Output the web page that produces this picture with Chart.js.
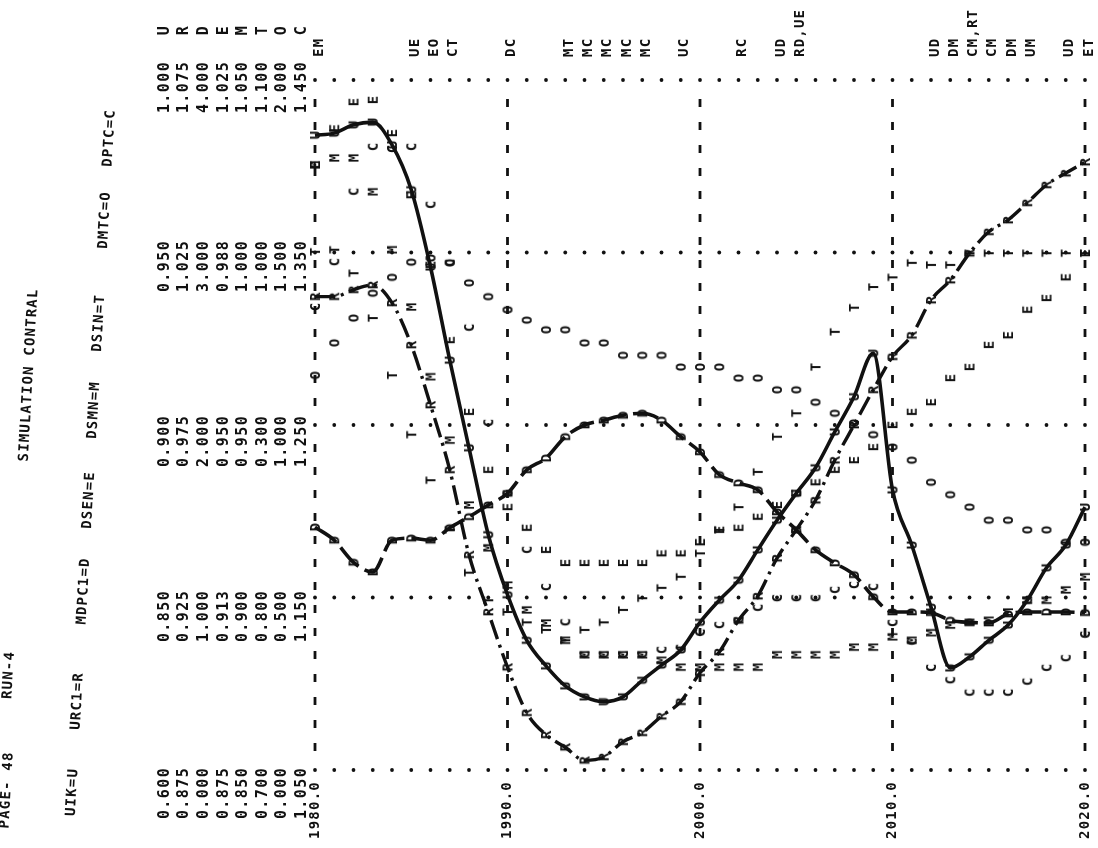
<!DOCTYPE html>
<html>
<head>
<meta charset="utf-8">
<title>SIMULATION CONTRAL - RUN-4</title>
<script src="https://cdn.jsdelivr.net/npm/chart.js@4.4.1/dist/chart.umd.min.js"></script>
<style>
  html, body { margin: 0; padding: 0; background: #ffffff; }
  #wrap { width: 1098px; height: 848px; position: relative; }
</style>
</head>
<body>
<div id="wrap"><canvas id="plot"></canvas></div>
<script>
// ---- time axis (one printer line per year) ----
const years = [1980,1981,1982,1983,1984,1985,1986,1987,1988,1989,
               1990,1991,1992,1993,1994,1995,1996,1997,1998,1999,
               2000,2001,2002,2003,2004,2005,2006,2007,2008,2009,
               2010,2011,2012,2013,2014,2015,2016,2017,2018,2019,2020];
const decadeTicks  = [1980, 1990, 2000, 2010, 2020];
const decadeLabels = ['1980.0', '1990.0', '2000.0', '2010.0', '2020.0'];

// ---- plotted variables and their print symbols ----
const varNames = ['UIK', 'URC1', 'MDPC1', 'DSEN', 'DSMN', 'DSIN', 'DMTC', 'DPTC'];
const symbols  = ['U', 'R', 'D', 'E', 'M', 'T', 'O', 'C'];

// scale values printed at the five grid rows (bottom row first), one entry per variable
const scaleRow0 = ['0.600', '0.875', '0.000', '0.875', '0.850', '0.700', '0.000', '1.050'];
const scaleRow1 = ['0.850', '0.925', '1.000', '0.913', '0.900', '0.800', '0.500', '1.150'];
const scaleRow2 = ['0.900', '0.975', '2.000', '0.950', '0.950', '0.300', '1.000', '1.250'];
const scaleRow3 = ['0.950', '1.025', '3.000', '0.988', '1.000', '1.000', '1.500', '1.350'];
const scaleRow4 = ['1.000', '1.075', '4.000', '1.025', '1.050', '1.100', '2.000', '1.450'];
const gridLevels = [0, 25, 50, 75, 100];   // position on each variable's scale, percent

// coincident-symbol notes printed at the end of a line
const noteYears = [1980, 1985, 1986, 1987, 1990, 1993, 1994, 1995, 1996, 1997, 1999,
                   2002, 2004, 2005, 2012, 2013, 2014, 2015, 2016, 2017, 2019, 2020];
const noteText  = ['EM', 'UE', 'EO', 'CT', 'DC', 'MT', 'MC', 'MC', 'MC', 'MC', 'UC',
                   'RC', 'UD', 'RD,UE', 'UD', 'DM', 'CM,RT', 'CM', 'DM', 'UM', 'UD', 'ET'];

// ---- series, in percent of each variable's printed scale ----
const uik = [92.0,92.3,93.5,93.9,90.6,84.1,72.9,59.4,46.7,34.1,
             25.4,18.8,15.1,12.2,10.6, 9.9,10.6,13.0,15.2,17.4,
             21.4,24.6,27.5,31.9,36.2,40.1,43.8,49.0,54.1,60.4,
             40.6,32.6,23.6,14.8,16.4,18.8,21.0,24.6,29.3,32.6,38.1];
const urc1 = [68.6,68.6,69.6,70.3,67.7,61.6,52.9,43.5,31.2,22.9,
              14.9, 8.3, 5.1, 3.3, 1.4, 1.9, 4.1, 5.4, 7.8, 9.9,
              14.1,17.1,21.7,25.2,30.7,34.8,39.1,44.9,50.0,55.1,
              59.9,63.0,68.1,71.0,74.9,78.0,79.7,82.2,84.8,86.5,88.1];
const mdpc1 = [35.2,33.3,30.1,28.7,33.3,33.6,33.3,35.1,36.7,38.4,
               40.1,43.5,45.2,48.3,50.0,50.7,51.4,51.7,50.7,48.3,
               46.1,42.8,41.6,40.6,37.4,34.8,31.9,30.0,28.3,25.1,
               22.9,22.9,22.8,21.7,21.4,21.3,22.6,22.9,22.9,22.9,22.8];
const dsen = [87.7,93.0,96.8,97.1,92.3,83.3,73.2,62.3,51.9,43.5,
              38.1,35.1,31.9,30.0,30.0,30.0,30.0,30.0,31.4,31.4,
              33.0,34.8,35.1,36.7,38.4,40.1,41.7,43.5,44.9,46.8,
              50.0,51.9,53.3,56.8,58.4,61.6,63.0,66.7,68.4,71.4,74.9];
const dsmn = [87.7,88.7,88.7,83.8,75.4,67.1,57.0,47.8,38.4,32.2,
              26.8,23.2,21.3,18.8,16.7,16.7,16.7,16.7,15.9,14.9,
              14.9,14.9,14.9,14.9,16.7,16.7,16.7,16.7,17.8,17.8,
              19.3,18.8,19.9,21.0,21.4,21.7,22.9,24.6,24.6,26.1,28.0];
const dsin = [75.1,75.4,72.0,65.5,57.2,48.6,42.0,34.8,28.6,24.6,
              22.9,21.4,20.3,18.8,20.3,21.4,23.2,24.9,26.4,28.0,
              31.4,34.8,38.1,43.2,48.3,51.7,58.4,63.5,67.0,70.0,
              71.4,73.5,73.2,73.2,74.9,74.9,74.9,74.9,74.9,74.9,74.9];
const dmtc = [57.2,61.9,65.5,69.1,71.4,73.6,74.2,73.5,70.6,68.6,
              66.7,65.2,63.8,63.8,61.9,61.9,60.1,60.1,60.1,58.4,
              58.4,58.4,56.8,56.8,55.1,55.1,53.3,51.7,50.3,48.6,
              46.8,44.9,41.7,39.9,38.1,36.2,36.2,34.8,34.8,33.0,33.0];
const dptc = [67.1,73.6,83.8,90.3,90.0,90.3,81.9,73.5,64.1,50.3,
              40.1,31.9,26.5,21.4,16.7,16.7,16.7,16.7,17.4,17.7,
              19.9,21.0,21.7,23.5,24.9,24.9,24.9,26.1,26.8,26.5,
              21.3,18.6,14.8,13.0,11.2,11.2,11.2,12.8,14.8,16.2,19.6];

const seriesValues = [uik, urc1, mdpc1, dsen, dsmn, dsin, dmtc, dptc];

// ---- drawing helpers ----
const MONO = "'DejaVu Sans Mono', 'Liberation Mono', monospace";
const INK = '#111111';

function points(values) {
  return years.map((yr, i) => ({ x: yr, y: values[i] }));
}

// a printed character used as the point marker
function glyph(ch) {
  const c = document.createElement('canvas');
  c.width = 14; c.height = 14;
  const g = c.getContext('2d');
  g.font = 'bold 14px ' + MONO;
  g.fillStyle = INK;
  g.textAlign = 'center';
  g.textBaseline = 'alphabetic';
  g.fillText(ch, 7, 12);
  return c;
}

function rotText(ctx, s, cx, cy, align, angle) {
  ctx.save();
  ctx.translate(cx, cy);
  ctx.rotate(angle === undefined ? -Math.PI / 2 : angle);
  ctx.textAlign = align || 'center';
  ctx.textBaseline = 'middle';
  ctx.fillText(s, 0, 0);
  ctx.restore();
}

// dotted grid rows, dashed decade columns and all the printed text
const printerSheet = {
  id: 'printerSheet',
  beforeDatasetsDraw(chart) {
    const { ctx, scales: { x, y } } = chart;
    ctx.save();
    ctx.fillStyle = INK;
    gridLevels.forEach(v => {
      const py = y.getPixelForValue(v);
      years.forEach(yr => {
        ctx.beginPath();
        ctx.arc(x.getPixelForValue(yr), py, 1.9, 0, Math.PI * 2);
        ctx.fill();
      });
    });
    decadeTicks.forEach(d => {
      const px = x.getPixelForValue(d);
      for (let k = 1; k < 30; k++) {
        const v = k * 100 / 30;
        if (Math.abs(v - Math.round(v / 25) * 25) < 0.5) continue;
        const py = y.getPixelForValue(v);
        ctx.fillRect(px - 1.4, py - 4, 2.8, 8);
      }
    });
    ctx.restore();
  },
  afterDraw(chart) {
    const { ctx, scales: { x, y } } = chart;
    ctx.save();
    ctx.fillStyle = INK;
    ctx.font = 'bold 14px ' + MONO;
    ctx.letterSpacing = '1.2px';

    // page heading and run parameters, printed along the page edge
    const tilt = -Math.PI / 2 + 0.0566;
    rotText(ctx, 'PAGE- 48', 7, 790, 'center', tilt);
    rotText(ctx, 'RUN-4', 9, 675, 'center', tilt);
    rotText(ctx, 'SIMULATION CONTRAL', 29, 375, 'center', tilt);
    const headerY = [792, 701, 591, 500, 410, 323, 220, 138];
    varNames.forEach((nm, i) => {
      const hy = headerY[i];
      rotText(ctx, nm + '=' + symbols[i], 72 + (800 - hy) * 0.0567, hy, 'center', tilt);
    });

    // scale columns, one per variable
    const colX = [165, 184.6, 204.2, 223.8, 243.4, 263, 282.6, 302.2];
    const rowY = [793, 616, 441, 266, 87];
    const rows = [scaleRow0, scaleRow1, scaleRow2, scaleRow3, scaleRow4];
    ctx.font = 'bold 15px ' + MONO;
    ctx.letterSpacing = '1.4px';
    rows.forEach((r, ri) => r.forEach((s, ci) => rotText(ctx, s, colX[ci], rowY[ri])));
    symbols.forEach((s, ci) => rotText(ctx, s, colX[ci], 30));

    // time labels
    ctx.font = 'bold 14px ' + MONO;
    ctx.letterSpacing = '1.2px';
    decadeTicks.forEach((d, i) => rotText(ctx, decadeLabels[i], x.getPixelForValue(d), 810));

    // coincidence notes above the plot
    noteYears.forEach((yr, i) => rotText(ctx, noteText[i], x.getPixelForValue(yr) + 4, 57, 'left'));
    ctx.restore();
  }
};

const datasets = [];
// hand-drawn traces through the U, R and D symbols
datasets.push({ data: points(uik), borderColor: INK, borderWidth: 3.6, pointRadius: 0,
  cubicInterpolationMode: 'monotone', fill: false, order: 0, clip: false });
datasets.push({ data: points(urc1), borderColor: INK, borderWidth: 3.4, borderDash: [20, 6, 3, 6],
  pointRadius: 0, cubicInterpolationMode: 'monotone', fill: false, order: 0, clip: false });
datasets.push({ data: points(mdpc1), borderColor: INK, borderWidth: 3.6, borderDash: [26, 7],
  pointRadius: 0, cubicInterpolationMode: 'monotone', fill: false, order: 0, clip: false });
// printed symbols for every variable
seriesValues.forEach((vals, i) => {
  datasets.push({ data: points(vals), showLine: false, pointStyle: glyph(symbols[i]),
    pointRotation: -90, pointRadius: 7, order: 1, clip: false });
});

new Chart(document.getElementById('plot'), {
  type: 'line',
  data: { datasets },
  options: {
    responsive: true,
    maintainAspectRatio: false,
    animation: false,
    events: [],
    layout: { padding: { left: 315, right: 13, top: 80, bottom: 78 } },
    scales: {
      x: { type: 'linear', min: 1980, max: 2020, display: false },
      y: { type: 'linear', min: 0, max: 100, display: false }
    },
    plugins: { legend: { display: false }, tooltip: { enabled: false } }
  },
  plugins: [printerSheet]
});
</script>
</body>
</html>
